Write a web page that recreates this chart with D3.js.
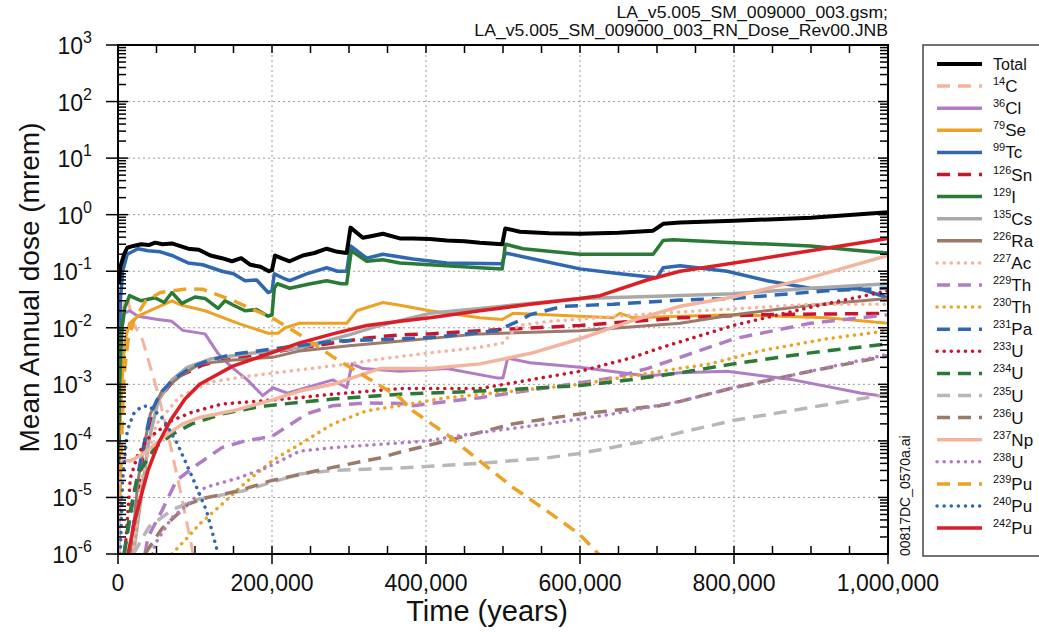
<!DOCTYPE html>
<html>
<head>
<meta charset="utf-8">
<script src="https://cdn.jsdelivr.net/npm/d3@7"></script>
<style>
  html, body { margin: 0; padding: 0; background: #fff; }
  svg { display: block; }
  text { font-family: "Liberation Sans", Arial, sans-serif; fill: #111; }
</style>
</head>
<body>
<svg id="chart" width="1039" height="632"></svg>
<script>
// ---- data: [time (years), mean annual dose (mrem)] ----
const totalDose = [[1000,0.06],[3000,0.12],[8000,0.2],[12000,0.26],[20000,0.28],[30000,0.3],[40000,0.29],[48000,0.32],[58000,0.3],[70000,0.31],[80000,0.28],[91000,0.25],[105000,0.24],[120000,0.19],[135000,0.17],[148000,0.15],[160000,0.17],[172000,0.13],[185000,0.12],[196000,0.1],[200000,0.105],[204000,0.19],[212000,0.17],[223000,0.15],[240000,0.19],[255000,0.21],[271000,0.25],[285000,0.22],[297000,0.21],[302000,0.59],[318000,0.39],[330000,0.42],[344000,0.46],[366000,0.38],[383000,0.38],[405000,0.37],[427000,0.35],[450000,0.34],[470000,0.32],[499000,0.3],[503000,0.57],[522000,0.5],[560000,0.47],[600000,0.46],[650000,0.48],[695000,0.52],[708000,0.69],[730000,0.73],[800000,0.78],[900000,0.88],[1000000,1.1]];
const c14 = [[1000,1e-4],[4000,0.005],[8000,0.03],[12000,0.035],[20000,0.012],[32000,0.006],[51000,7.7e-4],[64000,1.5e-4],[80000,1.5e-5],[96000,1.3e-6],[100000,5e-7]];
const cl36 = [[1000,1e-4],[3000,0.005],[8000,0.018],[15000,0.02],[26000,0.016],[52000,0.014],[70000,0.013],[84000,0.009],[113000,0.0078],[130000,0.0035],[142000,0.0024],[148000,0.002],[168000,0.0012],[188000,6.3e-4],[201000,8.7e-4],[220000,7e-4],[279000,0.0012],[297000,8.7e-4],[304000,0.0023],[318000,0.0019],[366000,0.0017],[427000,0.0019],[492000,0.0013],[500000,0.0013],[506000,0.0029],[535000,0.0024],[600000,0.002],[687000,0.0014],[730000,0.0016],[791000,0.0017],[877000,0.0012],[964000,7e-4],[1000000,6e-4]];
const se79 = [[2000,1e-4],[5000,1e-3],[9000,0.006],[15000,0.012],[26000,0.016],[48000,0.022],[70000,0.03],[83000,0.025],[113000,0.02],[156000,0.012],[195000,0.008],[208000,0.008],[217000,0.01],[236000,0.012],[297000,0.012],[310000,0.02],[344000,0.028],[366000,0.025],[405000,0.02],[470000,0.015],[499000,0.014],[513000,0.018],[557000,0.017],[600000,0.016],[643000,0.015],[652000,0.018],[669000,0.015],[730000,0.016],[799000,0.017],[921000,0.015],[1000000,0.012]];
const tc99 = [[600,1e-6],[1500,1e-3],[3000,0.03],[6000,0.1],[12000,0.2],[26000,0.25],[39000,0.23],[55000,0.22],[70000,0.19],[91000,0.14],[110000,0.13],[135000,0.1],[150000,0.09],[165000,0.068],[180000,0.07],[195000,0.042],[200000,0.045],[203000,0.09],[215000,0.075],[223000,0.068],[245000,0.09],[271000,0.115],[285000,0.1],[297000,0.1],[302000,0.28],[323000,0.17],[344000,0.2],[383000,0.165],[427000,0.14],[499000,0.135],[503000,0.21],[535000,0.17],[600000,0.11],[652000,0.09],[700000,0.077],[708000,0.115],[730000,0.125],[791000,0.1],[843000,0.068],[899000,0.05],[964000,0.049],[1000000,0.034]];
const sn126 = [[15000,1e-6],[25000,1e-5],[35000,1e-4],[50000,5e-4],[75000,0.0013],[110000,0.0022],[150000,0.0029],[236000,0.0044],[323000,0.0066],[366000,0.0075],[405000,0.0078],[470000,0.0089],[600000,0.011],[730000,0.015],[830000,0.017],[1000000,0.018]];
const i129 = [[500,1e-6],[2000,1e-3],[5000,0.01],[9000,0.023],[15000,0.037],[30000,0.03],[48000,0.034],[60000,0.028],[70000,0.042],[83000,0.027],[100000,0.035],[113000,0.033],[130000,0.022],[139000,0.03],[150000,0.025],[165000,0.02],[180000,0.021],[195000,0.016],[200000,0.017],[203000,0.05],[207000,0.06],[223000,0.05],[250000,0.06],[271000,0.068],[290000,0.06],[297000,0.06],[303000,0.23],[323000,0.15],[344000,0.16],[366000,0.14],[383000,0.135],[427000,0.125],[470000,0.115],[499000,0.11],[503000,0.3],[526000,0.25],[600000,0.2],[695000,0.2],[708000,0.35],[721000,0.36],[800000,0.32],[899000,0.28],[964000,0.23],[1000000,0.21]];
const cs135 = [[20000,1e-6],[30000,1e-5],[40000,1e-4],[52000,5e-4],[70000,0.0012],[90000,0.002],[120000,0.0028],[170000,0.0035],[236000,0.0044],[300000,0.0075],[340000,0.011],[405000,0.018],[470000,0.022],[535000,0.027],[600000,0.033],[700000,0.036],[800000,0.04],[900000,0.05],[1000000,0.06]];
const ra226 = [[15000,1e-6],[22000,5e-6],[26000,2e-5],[32000,6e-5],[42000,3e-4],[57000,7.6e-4],[84000,0.0015],[106000,0.0023],[150000,0.0027],[201000,0.003],[236000,0.0039],[300000,0.0048],[340000,0.0054],[470000,0.0078],[600000,0.0089],[730000,0.012],[800000,0.017],[900000,0.025],[1000000,0.033]];
const ac227 = [[20000,1e-6],[30000,2e-5],[50000,2e-4],[80000,6e-4],[120000,0.0011],[170000,0.0014],[220000,0.0017],[300000,0.0023],[340000,0.0028],[405000,0.0036],[470000,0.0045],[500000,0.0054],[520000,0.011],[560000,0.013],[700000,0.018],[900000,0.026],[1000000,0.026]];
const th229 = [[35000,1e-6],[39000,2e-6],[57000,5.8e-6],[76000,2e-5],[104000,3.9e-5],[135000,7.6e-5],[165000,1e-4],[200000,1.2e-4],[220000,1.8e-4],[245000,3e-4],[279000,4.2e-4],[323000,4.7e-4],[366000,4.6e-4],[383000,4.2e-4],[470000,5.8e-4],[557000,8.7e-4],[643000,0.0013],[687000,0.0019],[730000,0.003],[800000,0.0064],[899000,0.012],[1000000,0.017]];
const th230 = [[70000,1e-6],[91000,2e-6],[106000,3.4e-6],[130000,6.6e-6],[165000,1.8e-5],[195000,3.9e-5],[206000,5e-5],[236000,8.7e-5],[279000,2e-4],[323000,3.4e-4],[366000,4.2e-4],[427000,5.8e-4],[600000,0.001],[704000,0.0017],[769000,0.0023],[834000,0.0039],[921000,0.0064],[1000000,0.0089]];
const pa231 = [[8000,1e-6],[20000,1e-5],[30000,5e-5],[42000,3e-4],[55000,7e-4],[71000,0.0012],[95000,0.002],[120000,0.0027],[149000,0.0034],[200000,0.0042],[280000,0.0058],[405000,0.0067],[492000,0.0089],[522000,0.0135],[535000,0.017],[578000,0.024],[643000,0.026],[730000,0.031],[800000,0.033],[920000,0.045],[1000000,0.05]];
const u233 = [[9000,1e-6],[16000,2.2e-5],[26000,5.8e-5],[39000,1.1e-4],[70000,2.3e-4],[96000,3.2e-4],[135000,4.5e-4],[178000,5e-4],[236000,5.8e-4],[279000,6.7e-4],[366000,8.4e-4],[470000,8.4e-4],[535000,0.0012],[600000,0.0017],[665000,0.0029],[704000,0.0044],[799000,0.011],[899000,0.023],[1000000,0.045]];
const u234 = [[8000,1e-6],[15000,5e-6],[26000,2.6e-5],[48000,7.6e-5],[70000,1.3e-4],[96000,2e-4],[135000,3e-4],[178000,3.9e-4],[194000,4.2e-4],[279000,5.5e-4],[366000,6.7e-4],[470000,7.6e-4],[600000,9.5e-4],[665000,0.0012],[730000,0.0016],[799000,0.0023],[899000,0.0036],[1000000,0.0052]];
const u235 = [[20000,1e-6],[40000,3e-6],[70000,6e-6],[100000,9e-6],[162000,1.3e-5],[236000,2.6e-5],[279000,3e-5],[366000,3.3e-5],[470000,4e-5],[557000,5e-5],[600000,6e-5],[687000,1e-4],[730000,1.4e-4],[799000,2.3e-4],[899000,3.9e-4],[1000000,6.7e-4]];
const u236 = [[35000,1e-6],[57000,2.8e-6],[91000,7.6e-6],[113000,9.8e-6],[156000,1.3e-5],[200000,2e-5],[279000,3.4e-5],[340000,5e-5],[366000,6.3e-5],[427000,1e-4],[513000,2e-4],[600000,3e-4],[704000,4.2e-4],[730000,5e-4],[799000,8.7e-4],[899000,0.0017],[1000000,0.0032]];
const np237 = [[1000,1e-6],[3000,3e-5],[6000,5e-5],[10000,4.5e-5],[16000,4.4e-5],[32000,5.8e-5],[64000,1.3e-4],[84000,2e-4],[106000,2.6e-4],[149000,3.4e-4],[194000,5e-4],[236000,7.6e-4],[279000,0.001],[340000,0.0019],[405000,0.0019],[470000,0.0023],[535000,0.0035],[600000,0.0064],[665000,0.013],[730000,0.024],[799000,0.035],[899000,0.077],[1000000,0.19]];
const u238 = [[45000,1e-6],[48000,1.5e-6],[70000,4.4e-6],[91000,7.6e-6],[113000,1.5e-5],[156000,2.2e-5],[194000,3.4e-5],[236000,6.6e-5],[279000,7.6e-5],[366000,9.2e-5],[400000,1e-4],[470000,1.4e-4],[557000,2e-4],[643000,3e-4],[730000,5e-4],[799000,8.7e-4],[899000,0.0017],[1000000,0.0034]];
const pu239 = [[2000,1e-5],[6000,3e-4],[8000,0.0015],[13000,0.006],[20000,0.013],[36000,0.03],[55000,0.042],[90000,0.049],[110000,0.048],[150000,0.03],[200000,0.015],[240000,0.007],[280000,0.003],[324000,0.0013],[366000,5.8e-4],[383000,3.4e-4],[427000,1.3e-4],[470000,4.4e-5],[513000,1.5e-5],[557000,5.8e-6],[600000,2.2e-6],[624000,1e-6],[640000,5e-7]];
const pu240 = [[3000,1e-6],[6000,2e-5],[12000,1.5e-4],[20000,3e-4],[30000,4e-4],[40000,4.2e-4],[58000,2.5e-4],[77000,9e-5],[97000,2.2e-5],[115000,5.8e-6],[130000,1e-6],[135000,5e-7]];
const pu242 = [[13000,1e-6],[22000,4e-6],[31000,1.2e-5],[39000,3e-5],[52000,8.7e-5],[68000,2.3e-4],[87000,5.5e-4],[106000,1e-3],[149000,0.0021],[194000,0.0034],[236000,0.0054],[279000,0.0078],[323000,0.011],[366000,0.013],[405000,0.015],[470000,0.02],[535000,0.026],[600000,0.033],[626000,0.037],[687000,0.07],[730000,0.1],[800000,0.14],[899000,0.23],[1000000,0.38]];

// legend labels: [mass number, element]
const seriesNames = [["", "Total"],["14","C"],["36","Cl"],["79","Se"],["99","Tc"],["126","Sn"],["129","I"],["135","Cs"],["226","Ra"],["227","Ac"],["229","Th"],["230","Th"],["231","Pa"],["233","U"],["234","U"],["235","U"],["236","U"],["237","Np"],["238","U"],["239","Pu"],["240","Pu"],["242","Pu"]];
const seriesData = [totalDose,c14,cl36,se79,tc99,sn126,i129,cs135,ra226,ac227,th229,th230,pa231,u233,u234,u235,u236,np237,u238,pu239,pu240,pu242];

const xTickValues = [0,200000,400000,600000,800000,1000000];
const yExponents = [-6,-5,-4,-3,-2,-1,0,1,2,3];
const headerLines = ["LA_v5.005_SM_009000_003.gsm;","LA_v5.005_SM_009000_003_RN_Dose_Rev00.JNB"];

// ---- styling ----
const C = { black:"#000", salmon:"#f3b39c", purple:"#b07cc4", orange:"#eda125", blue:"#2f67b1", red:"#c9142c", green:"#2a7a37", gray:"#a9a9a9", brown:"#9b7a6a", lgray:"#b9b6b6", red2:"#dc1e26" };
const SOLID = null, DASH = "13,8", DOT = "0.1,7";
const styles = [
  [C.black, SOLID, 4], [C.salmon, DASH, 3], [C.purple, SOLID, 3], [C.orange, SOLID, 3],
  [C.blue, SOLID, 3.5], [C.red, DASH, 3.5], [C.green, SOLID, 3.5], [C.gray, SOLID, 3.5],
  [C.brown, SOLID, 3], [C.salmon, DOT, 3.5], [C.purple, DASH, 3.5], [C.orange, DOT, 3.5],
  [C.blue, DASH, 3.5], [C.red, DOT, 3.5], [C.green, DASH, 3.5], [C.lgray, DASH, 3.5],
  [C.brown, DASH, 3.5], [C.salmon, SOLID, 3.5], [C.purple, DOT, 3.5], [C.orange, DASH, 3.5],
  [C.blue, DOT, 3.5], [C.red2, SOLID, 3.5]
];

const svg = d3.select("#chart");
const M = { left: 118, right: 888, top: 45, bottom: 554 };

const x = d3.scaleLinear().domain([0, 1000000]).range([M.left, M.right]);
const y = d3.scaleLog().domain([1e-6, 1e3]).range([M.bottom, M.top]);

// header (condensed by horizontal scaling)
const hdr = svg.selectAll("text.hdr").data(headerLines).join("text")
  .attr("class", "hdr")
  .attr("text-anchor", "end")
  .style("font-size", "17px")
  .text(d => d);
const hdrWidth = hdr.nodes()[1].getComputedTextLength();
const hdrScale = 414 / hdrWidth;
hdr.attr("transform", (d, i) => `translate(${M.right},${18 + i * 18}) scale(${hdrScale},1)`);

// grid
const grid = svg.append("g");
grid.selectAll("line.gx").data(xTickValues.slice(1, -1)).join("line")
  .attr("x1", d => x(d)).attr("x2", d => x(d)).attr("y1", M.top).attr("y2", M.bottom)
  .attr("stroke", "#9a9a9a").attr("stroke-width", 1).attr("stroke-dasharray", "2,3");
grid.selectAll("line.gy").data(yExponents.slice(1, -1)).join("line")
  .attr("x1", M.left).attr("x2", M.right).attr("y1", d => y(Math.pow(10, d))).attr("y2", d => y(Math.pow(10, d)))
  .attr("stroke", "#9a9a9a").attr("stroke-width", 1).attr("stroke-dasharray", "2,3");

// series
svg.append("clipPath").attr("id", "plotclip").append("rect")
  .attr("x", M.left).attr("y", M.top).attr("width", M.right - M.left).attr("height", M.bottom - M.top);

const line = d3.line().x(d => x(d[0])).y(d => y(Math.max(d[1], 1e-7)));
const plot = svg.append("g").attr("clip-path", "url(#plotclip)");
const order = d3.range(seriesData.length).slice(1).concat([0]);
order.forEach(i => {
  const [col, dash, w] = styles[i];
  plot.append("path")
    .attr("d", line(seriesData[i]))
    .attr("fill", "none")
    .attr("stroke", col)
    .attr("stroke-width", w)
    .attr("stroke-linejoin", "round")
    .attr("stroke-linecap", dash === DOT ? "round" : "butt")
    .attr("stroke-dasharray", dash);
});

// frame
svg.append("rect").attr("x", M.left).attr("y", M.top)
  .attr("width", M.right - M.left).attr("height", M.bottom - M.top)
  .attr("fill", "none").attr("stroke", "#000").attr("stroke-width", 2);

// x ticks (major cross the axis, minor inward)
const ax = svg.append("g").attr("stroke", "#000").attr("stroke-width", 1.5);
const xMinor = d3.range(0, 1000001, 50000);
xMinor.forEach(v => {
  const major = v % 200000 === 0;
  ax.append("line").attr("x1", x(v)).attr("x2", x(v)).attr("y1", M.bottom + (major ? 10 : 0)).attr("y2", M.bottom - 8);
  ax.append("line").attr("x1", x(v)).attr("x2", x(v)).attr("y1", M.top).attr("y2", M.top + 8);
});
// y ticks
yExponents.forEach(e => {
  ax.append("line").attr("x1", M.left - 12).attr("x2", M.left + 10).attr("y1", y(Math.pow(10, e))).attr("y2", y(Math.pow(10, e)));
  ax.append("line").attr("x1", M.right - 10).attr("x2", M.right).attr("y1", y(Math.pow(10, e))).attr("y2", y(Math.pow(10, e)));
  if (e < 3) {
    for (let k = 2; k <= 9; k++) {
      const v = k * Math.pow(10, e);
      ax.append("line").attr("x1", M.left).attr("x2", M.left + 8).attr("y1", y(v)).attr("y2", y(v));
      ax.append("line").attr("x1", M.right - 8).attr("x2", M.right).attr("y1", y(v)).attr("y2", y(v));
    }
  }
});

// x tick labels
svg.selectAll("text.xt").data(xTickValues).join("text")
  .attr("x", d => x(d)).attr("y", M.bottom + 37)
  .attr("text-anchor", "middle")
  .style("font-size", "23px")
  .text(d => d3.format(",")(d));

// y tick labels
const yl = svg.selectAll("text.yt").data(yExponents).join("text")
  .attr("x", M.left - 26).attr("y", d => y(Math.pow(10, d)) + 9)
  .attr("text-anchor", "end")
  .style("font-size", "23px");
yl.append("tspan").text("10");
yl.append("tspan").attr("dy", -11).style("font-size", "16px").text(d => String(d));

// axis titles
svg.append("text").attr("x", 487).attr("y", 621)
  .attr("text-anchor", "middle").style("font-size", "29px").text("Time (years)");
svg.append("text").attr("transform", `translate(39,${(M.top + M.bottom) / 2 - 12}) rotate(-90)`)
  .attr("text-anchor", "middle").style("font-size", "28px").text("Mean Annual dose (mrem)");

// file tag
svg.append("text").attr("transform", `translate(910,556) rotate(-90)`)
  .style("font-size", "14px").text("00817DC_0570a.ai");

// legend
const lg = svg.append("g");
lg.append("rect").attr("x", 923).attr("y", 45).attr("width", 130).attr("height", 511)
  .attr("fill", "#fff").attr("stroke", "#444").attr("stroke-width", 1.5);
seriesNames.forEach((n, i) => {
  const yy = 64 + i * 22.1;
  const [col, dash, w] = styles[i];
  lg.append("line").attr("x1", 937).attr("x2", 982).attr("y1", yy).attr("y2", yy)
    .attr("stroke", col).attr("stroke-width", i === 0 ? 4 : 3.5)
    .attr("stroke-dasharray", dash).attr("stroke-linecap", dash === DOT ? "round" : "butt");
  const t = lg.append("text").attr("x", 993).attr("y", yy + 6).style("font-size", "16px");
  if (n[0]) {
    t.append("tspan").attr("dy", -7).style("font-size", "11px").text(n[0]);
    t.append("tspan").attr("dy", 7).style("font-size", "17px").text(n[1]);
  } else {
    t.text(n[1]);
  }
});
</script>
</body>
</html>
